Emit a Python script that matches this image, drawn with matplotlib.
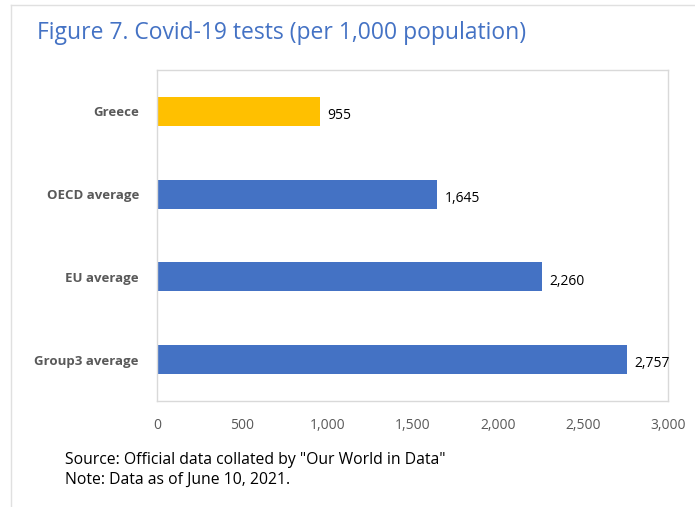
import matplotlib.pyplot as plt
import numpy as np

categories = ['Greece', 'OECD average', 'EU average', 'Group3 average']
values = [955, 1645, 2260, 2757]
bar_colors = ['#FFC000', '#4472C4', '#4472C4', '#4472C4']
xticks = [0, 500, 1000, 1500, 2000, 2500, 3000]

plt.rcParams['font.family'] = ['Open Sans', 'DejaVu Sans']

fig = plt.figure(figsize=(6.95, 5.07), dpi=100)
ax = fig.add_axes([157/695, 1-401/507, 511/695, 331/507])

y = np.arange(len(categories))
ax.barh(y, values, height=0.35, color=bar_colors)
ax.set_ylim(len(categories) - 0.5, -0.5)
ax.set_xlim(0, 3000)

for yi, v in zip(y, values):
    ax.text(v + 45, yi + 0.05, f'{v:,}', va='center', ha='left', fontsize=10, color='black')

ax.set_yticks(y)
ax.set_yticklabels(categories, fontsize=9.5, fontweight='bold', color='#595959')
ax.set_xticks(xticks)
ax.set_xticklabels([f'{t:,}' for t in xticks], fontsize=10, color='#595959')
ax.tick_params(axis='both', length=0)
ax.tick_params(axis='x', pad=12)
ax.tick_params(axis='y', pad=13)
for s in ax.spines.values():
    s.set_color('#D9D9D9')
    s.set_linewidth(1)

fig.text(37/695, 1-33/507, 'Figure 7. Covid-19 tests (per 1,000 population)',
         fontsize=16.5, color='#4472C4', va='center', ha='left')
fig.text(65/695, 1-460/507, 'Source: Official data collated by "Our World in Data"',
         fontsize=11.3, color='black', va='center', ha='left')
fig.text(65/695, 1-480/507, 'Note: Data as of June 10, 2021.',
         fontsize=11.3, color='black', va='center', ha='left')

# outer frame lines (top and left)
fig.add_artist(plt.Line2D([11/695, 1], [1-5/507, 1-5/507], color='#E0E0E0', lw=1))
fig.add_artist(plt.Line2D([11/695, 11/695], [0, 1-5/507], color='#E0E0E0', lw=1))

fig.savefig('out.png', dpi=100)
